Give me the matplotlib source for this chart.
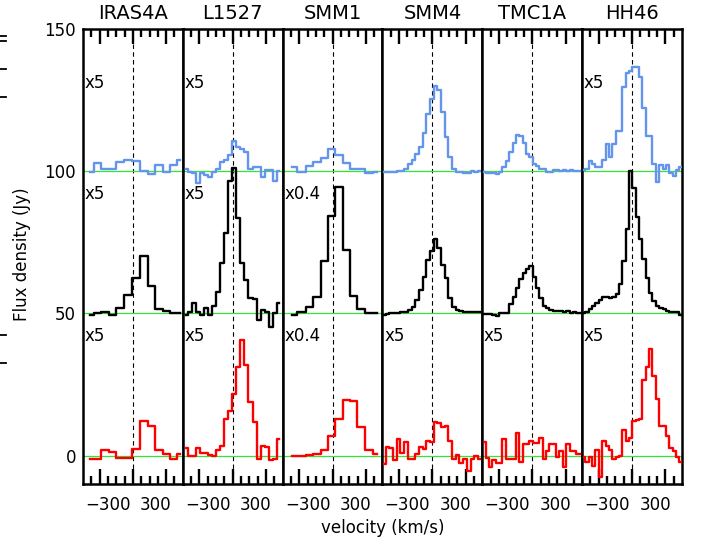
import numpy as np
import matplotlib
matplotlib.use('Agg')
from matplotlib import pyplot as plt
from matplotlib.lines import Line2D

# sources, one panel each
sources = ['IRAS4A', 'L1527', 'SMM1', 'SMM4', 'TMC1A', 'HH46']
offsets = [100, 50, 0]                 # blue, black, red spectra
colours = ['#6495ed', 'black', 'red']

major_ticks = [-500, 0, 500]
minor_ticks = [-625, -375, -250, -125, 125, 250, 375, 625]

# channel velocities (km/s)
vel_iras4a = [-640, -538, -420, -304, -191, -73, 48, 161, 279, 392, 500, 613, 715]
vel_l1527 = [-700, -640, -580, -520, -455, -395, -335, -275, -215, -155, -95, -35,
             25, 85, 145, 205, 265, 330, 390, 450, 510, 570, 630, 690]
vel_smm1 = [-610, -458, -342, -236, -121, -10, 96, 206, 312, 428, 553, 669]
vel_smm4 = [-730, -675, -620, -565, -510, -455, -400, -340, -285, -230, -175, -120, -65,
            -10, 45, 100, 155, 210, 265, 320, 375, 430, 490, 545, 600, 655, 710]
vel_tmc1a = [-725, -675, -625, -575, -525, -475, -420, -370, -320, -270, -220, -170, -120,
             -70, -20, 30, 80, 130, 180, 230, 280, 330, 380, 435, 485, 535, 585, 635, 685, 735]
vel_hh46 = vel_tmc1a

# flux density as plotted (already multiplied by the factor written in the panel)
iras4a_blue = [-0.2, 3.0, 0.7, 0.7, 3.3, 4.1, 3.5, 0.0, -0.9, 2.1, -0.2, 2.1, 4.1]
iras4a_black = [-0.6, 0.2, 0.6, -0.6, 2.0, 6.5, 12.3, 20.2, 9.6, 1.4, 0.8, 0.2, 0.0]
iras4a_red = [-1.2, -1.2, 2.0, 1.2, -0.7, -0.9, 2.3, 12.2, 10.4, 2.0, 0.5, -1.2, 0.5]

l1527_blue = [0.9, -0.2, -0.5, -4.3, -0.8, -1.4, -2.0, -0.2, 0.7, 3.3, 3.9, 5.6,
              10.6, 8.6, 7.7, 6.8, 0.9, 1.3, 1.3, -2.0, 0.4, 0.4, -3.5, 0.0]
l1527_black = [-0.6, 0.4, 3.5, 0.4, -0.4, 1.8, -0.4, 2.7, 7.6, 17.6, 28.2, 46.4,
               51.0, 33.5, 17.6, 11.7, 5.3, 5.0, -2.3, 1.2, 0.6, -4.7, 0.0, 3.5]
l1527_red = [2.6, 0.0, 0.0, 2.6, 0.8, 0.9, 0.2, 0.0, 1.8, 3.3, 12.7, 15.8,
             21.7, 31.1, 40.6, 31.7, 18.8, 11.7, -1.2, 3.5, 2.9, -1.4, -1.2, 5.9]

smm1_blue = [1.5, -0.2, 1.9, 3.3, 4.5, 7.7, 5.6, 2.9, 0.6, 0.6, -0.8, -0.2]
smm1_black = [-0.4, 0.6, 2.3, 5.9, 18.4, 34.3, 44.5, 22.4, 6.1, 1.4, 0.2, 0.0]
smm1_red = [0.0, 0.0, 0.3, 0.6, 2.0, 7.0, 12.7, 19.6, 19.1, 10.1, 2.0, 0.6]

smm4_blue = [-0.2, -0.4, -0.4, -0.2, 0.0, 0.1, 0.9, 2.7, 4.1, 6.2, 8.5, 13.5, 20.2, 25.5,
             30.0, 28.7, 20.9, 12.1, 5.1, 0.9, -0.2, -0.2, -0.5, -0.5, 0.0, -0.4, 0.0]
smm4_black = [-0.4, -0.2, 0.0, 0.2, 0.3, 0.4, 0.5, 1.2, 2.3, 4.7, 8.2, 12.9, 18.8, 22.1,
              26.0, 22.9, 17.0, 12.3, 5.3, 2.3, 1.2, 0.7, 0.5, 0.5, 0.6, 0.5, 0.5]
smm4_red = [-3.0, 2.9, 2.5, -1.5, 5.9, 1.0, 4.7, -1.2, -1.2, 0.5, 2.9, 2.3, 5.3, 4.7,
            11.7, 11.3, 9.9, 10.3, 5.0, -1.2, 0.2, -2.6, -1.2, -5.3, -1.2, -0.2, -1.2]

tmc1a_blue = [-0.2, -0.5, -0.6, -0.7, -0.9, -0.2, 1.5, 3.6, 6.8, 10.0, 12.8, 12.3, 10.0, 6.2, 5.0,
              2.7, 1.9, 0.9, 0.9, -0.2, -0.2, 0.4, 0.4, 0.2, 0.4, 0.2, 0.4, 0.2, 0.2, 0.2]
tmc1a_black = [-0.2, -0.2, -0.2, -0.5, -0.9, 0.2, 0.2, 0.2, 3.3, 5.9, 8.8, 12.1, 14.1, 15.6, 16.5,
               12.9, 8.8, 5.3, 2.6, 1.8, 1.2, 0.8, 0.8, 1.0, 0.6, 0.8, 0.2, 0.4, 0.2, 0.2]
tmc1a_red = [4.7, -0.9, -3.9, -1.5, -2.7, -2.7, 5.9, -1.2, -1.2, -1.2, 7.9, -2.3, 3.9, 3.9, 5.3,
             4.3, 4.3, 6.2, -1.2, 1.5, 3.9, 3.9, -0.6, 1.5, -3.9, 3.9, 1.5, 1.5, 0.5, 0.5]

hh46_blue = [0.4, 0.9, 3.5, 2.7, 1.5, 1.5, 4.1, 9.5, 5.0, 9.5, 14.2, 14.2, 29.6, 34.5, 35.2,
             36.6, 36.6, 33.0, 22.3, 12.2, 12.2, 2.7, -3.8, 2.1, 0.9, 2.1, -0.8, -1.8, 0.4, 1.5]
hh46_black = [0.2, 0.4, 1.5, 2.7, 3.6, 4.7, 5.8, 5.6, 5.3, 5.6, 6.9, 10.5, 18.5, 29.5, 50.0,
              44.0, 34.0, 26.0, 19.0, 12.5, 7.3, 4.5, 2.6, 1.8, 1.4, 0.8, 0.6, 0.6, 0.6, -0.4]
hh46_red = [-0.4, -2.3, -0.4, -3.5, 2.0, -7.4, 5.3, 3.5, 1.8, -1.2, -0.6, 0.0, 9.0, 5.3, 6.2,
            12.1, 12.6, 13.0, 26.4, 31.0, 37.5, 28.0, 20.0, 10.5, 10.5, 7.0, 2.5, 1.5, -0.6, -2.3]

velocities = [vel_iras4a, vel_l1527, vel_smm1, vel_smm4, vel_tmc1a, vel_hh46]
spectra = [[iras4a_blue, iras4a_black, iras4a_red],
           [l1527_blue, l1527_black, l1527_red],
           [smm1_blue, smm1_black, smm1_red],
           [smm4_blue, smm4_black, smm4_red],
           [tmc1a_blue, tmc1a_black, tmc1a_red],
           [hh46_blue, hh46_black, hh46_red]]
factors = [['x5', 'x5', 'x5'],
           ['x5', 'x5', 'x5'],
           ['', 'x0.4', 'x0.4'],
           ['', '', 'x5'],
           ['', '', 'x5'],
           ['x5', '', 'x5']]
factor_y = [131, 92, 42]   # where the factor is written

fig, axes = plt.subplots(1, 6, figsize=(7.02, 5.45), dpi=100, sharey=True)
fig.subplots_adjust(left=0.1182, right=0.9715, top=0.9468, bottom=0.1119, wspace=0)

for i, ax in enumerate(axes):
    ax.set_xlim(-750, 750)
    ax.set_ylim(-10, 150)
    ax.axvline(0, color='black', ls=(0, (4, 3)), lw=0.8, zorder=1)
    for off in offsets:
        ax.axhline(off, color='#33e633', lw=0.9, zorder=2)
    for j in range(3):
        y = np.array(spectra[i][j]) + offsets[j]
        ax.step(velocities[i], y, where='mid', color=colours[j], lw=1.7, zorder=3)
        if factors[i][j]:
            ax.text(-725, factor_y[j], factors[i][j], fontsize=12, va='center', ha='left')
    ax.set_title(sources[i], fontsize=14, pad=7)

    # inward ticks on bottom and top, IDL style
    ax.set_xticks(major_ticks)
    ax.set_xticks(minor_ticks, minor=True)
    ax.tick_params(axis='x', which='both', direction='in', top=True, bottom=True,
                   labelbottom=False, width=1.7, color='black')
    ax.tick_params(axis='x', which='major', length=10.5)
    ax.tick_params(axis='x', which='minor', length=5.5)
    ax.tick_params(axis='y', length=0, labelsize=12, pad=5)
    for s in ax.spines.values():
        s.set_linewidth(1.8)

    ax.text(-375, -17.5, '\u2212300', fontsize=12, ha='center', va='center')
    ax.text(345, -17.5, '300', fontsize=12, ha='center', va='center')

axes[0].set_yticks([0, 50, 100, 150])

fig.text(0.031, 0.534, 'Flux density (Jy)', rotation=90, fontsize=12, ha='center', va='center')
fig.text(0.5456, 0.031, 'velocity (km/s)', fontsize=12, ha='center', va='center')

# stray tick marks of a neighbouring axis at the left edge
for yp in [36, 41, 69, 97, 335, 363]:
    fig.add_artist(Line2D([0, 6 / 702], [1 - yp / 545, 1 - yp / 545], color='black',
                          lw=1.3, transform=fig.transFigure))

fig.savefig('out.png', dpi=100)
